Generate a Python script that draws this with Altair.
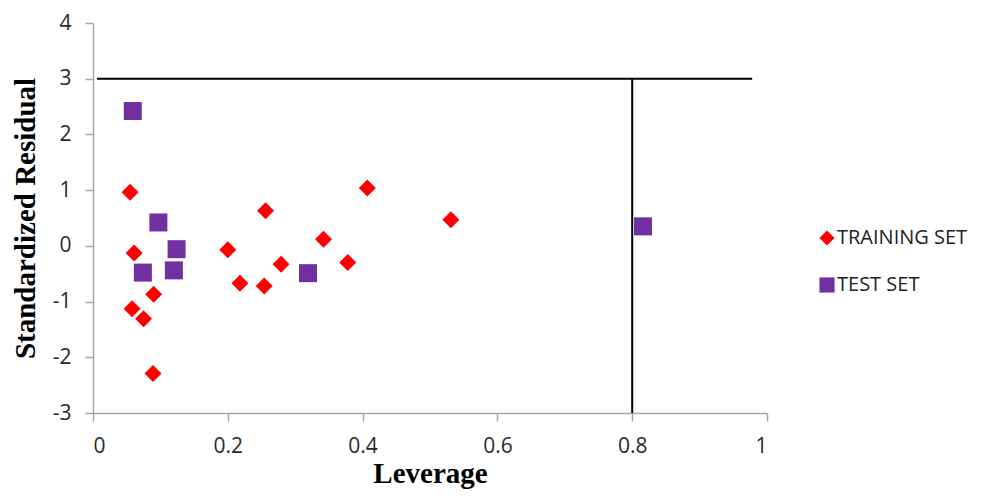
import altair as alt
import pandas as pd

series_names = ["TRAINING SET", "TEST SET"]
series_colors = ["#FF0000", "#7030A0"]
series_shapes = ["diamond", "square"]

train_leverage = [0.055, 0.061, 0.058, 0.075, 0.090, 0.089, 0.200, 0.218, 0.254, 0.256, 0.279, 0.342, 0.378, 0.407, 0.531]
train_resid = [0.96, -0.13, -1.13, -1.31, -0.87, -2.29, -0.07, -0.67, -0.72, 0.63, -0.33, 0.12, -0.30, 1.04, 0.47]

test_leverage = [0.059, 0.097, 0.124, 0.074, 0.120, 0.319, 0.816]
test_resid = [2.42, 0.42, -0.06, -0.48, -0.44, -0.49, 0.35]

x_ticks = [0, 0.2, 0.4, 0.6, 0.8, 1]
y_ticks = [-3, -2, -1, 0, 1, 2, 3, 4]

# warning limits
h_line_x = [0.006, 0.978]
h_line_y = 3
v_line_x = 0.8
v_line_y = [-3, 3]

train_df = pd.DataFrame({"leverage": train_leverage, "resid": train_resid, "series": series_names[0]})
test_df = pd.DataFrame({"leverage": test_leverage, "resid": test_resid, "series": series_names[1]})

x_scale = alt.Scale(domain=[0, 1], nice=False, zero=False)
y_scale = alt.Scale(domain=[-3, 4], nice=False, zero=False)

legend = alt.Legend(title=None, orient="none", legendX=724, legendY=205)


def point_layer(data, size):
    return alt.Chart(data).mark_point(filled=True, opacity=1, strokeWidth=0, size=size).encode(
        x=alt.X("leverage:Q", scale=x_scale,
                axis=alt.Axis(values=x_ticks, title="Leverage", labelExpr="'' + datum.value")),
        y=alt.Y("resid:Q", scale=y_scale,
                axis=alt.Axis(values=y_ticks, title="Standardized Residual", labelExpr="'' + datum.value")),
        color=alt.Color("series:N", scale=alt.Scale(domain=series_names, range=series_colors), legend=legend),
        shape=alt.Shape("series:N", scale=alt.Scale(domain=series_names, range=series_shapes), legend=legend),
    )


train_pts = point_layer(train_df, 289)
test_pts = point_layer(test_df, 324)

hline = alt.Chart(pd.DataFrame({"x": [h_line_x[0]], "x2": [h_line_x[1]], "y": [h_line_y]})).mark_rule(
    color="black", strokeWidth=2).encode(
    x=alt.X("x:Q", scale=x_scale), x2="x2:Q", y=alt.Y("y:Q", scale=y_scale))

vline = alt.Chart(pd.DataFrame({"x": [v_line_x], "y": [v_line_y[0]], "y2": [v_line_y[1]]})).mark_rule(
    color="black", strokeWidth=2).encode(
    x=alt.X("x:Q", scale=x_scale), y=alt.Y("y:Q", scale=y_scale), y2="y2:Q")

chart = alt.layer(hline, vline, train_pts, test_pts).properties(
    width=674, height=390,
    autosize=alt.AutoSizeParams(type="none"),
    padding={"left": 85, "top": 15, "right": 208, "bottom": 77},
    background="white",
).configure_view(stroke=None).configure_axis(
    grid=False,
    domainColor="#A6A6A6",
    domainWidth=1.5,
    tickColor="#A6A6A6",
    tickWidth=1.5,
    tickSize=8,
    labelFont="Open Sans",
    labelFontSize=21,
    labelColor="#2a2a2a",
    titleFont="Liberation Serif",
    titleFontSize=29,
    titleFontWeight="bold",
    titleColor="black",
).configure_axisY(
    labelPadding=14,
    titlePadding=12,
).configure_axisX(
    labelPadding=14,
    titlePadding=3,
).configure_legend(
    labelFont="Open Sans",
    labelFontSize=20,
    labelColor="#222222",
    symbolSize=230,
    symbolStrokeWidth=0,
    rowPadding=27,
    labelOffset=0,
)

chart.save("out.html", embed_options={"renderer": "svg", "actions": False})
